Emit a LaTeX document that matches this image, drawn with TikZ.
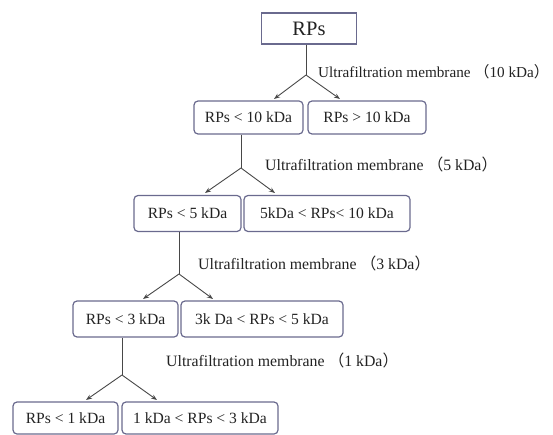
\documentclass[tikz,border=0pt]{standalone}
\usepackage{fontspec}
\setmainfont{Liberation Serif}
\newfontfamily\cjk{Noto Sans CJK SC}
\usetikzlibrary{arrows.meta}
\definecolor{boxc}{HTML}{6A6A8E}
\definecolor{linec}{HTML}{484848}
\definecolor{txt}{HTML}{222222}
\newcommand{\lp}{{\cjk （}}
\newcommand{\rp}{{\cjk\makebox[0.55em][l]{）}}}
\begin{document}
\begin{tikzpicture}[x=1pt,y=-1pt,
  box/.style={draw=boxc, line width=1.2pt, rounded corners=4pt, inner sep=0pt, text=txt, font=\fontsize{15.6}{18}\selectfont},
  lbl/.style={anchor=west, inner sep=0pt, text=txt, font=\fontsize{15.8}{18}\selectfont},
  conn/.style={draw=linec, line width=0.9pt},
  arr/.style={conn, -{Stealth[length=6pt,width=4.5pt]}}]
\useasboundingbox (0,0) rectangle (553,435);
% boxes
\node[box, rounded corners=0pt, minimum width=95pt, minimum height=31pt, font=\fontsize{20.5}{24}\selectfont] (top) at (309,28.5) {RPs};
\node[box, minimum width=109pt, minimum height=33pt] (r2l) at (248.5,117.5) {RPs < 10 kDa};
\node[box, minimum width=118pt, minimum height=33pt] (r2r) at (367,117.5) {RPs > 10 kDa};
\node[box, minimum width=107pt, minimum height=36pt] (r3l) at (187.5,213.5) {RPs < 5 kDa};
\node[box, minimum width=166pt, minimum height=36pt] (r3r) at (327,213.5) {5kDa < RPs< 10 kDa};
\node[box, minimum width=105pt, minimum height=36pt] (r4l) at (125.5,319) {RPs < 3 kDa};
\node[box, minimum width=162pt, minimum height=36pt] (r4r) at (262,319) {3k Da < RPs < 5 kDa};
\node[box, minimum width=105pt, minimum height=32pt] (r5l) at (65.5,418) {RPs < 1 kDa};
\node[box, minimum width=156pt, minimum height=32pt] (r5r) at (200,418) {1 kDa < RPs < 3 kDa};
% junctions and arrow tips
\coordinate (j1) at (306,75);
\coordinate (a1) at (274,99);
\coordinate (b1) at (340,99);
\coordinate (j2) at (241,168);
\coordinate (a2) at (205,193);
\coordinate (b2) at (275,193);
\coordinate (j3) at (179,274);
\coordinate (a3) at (143,299);
\coordinate (b3) at (213,299);
\coordinate (j4) at (122,375);
\coordinate (a4) at (86,400);
\coordinate (b4) at (157,400);
% connectors
\draw[conn] (j1 |- top.south) -- (j1);
\draw[arr] (j1) -- (a1);
\draw[arr] (j1) -- (b1);
\draw[conn] (j2 |- r2l.south) -- (j2);
\draw[arr] (j2) -- (a2);
\draw[arr] (j2) -- (b2);
\draw[conn] (j3 |- r3l.south) -- (j3);
\draw[arr] (j3) -- (a3);
\draw[arr] (j3) -- (b3);
\draw[conn] (j4 |- r4l.south) -- (j4);
\draw[arr] (j4) -- (a4);
\draw[arr] (j4) -- (b4);
% labels
\node[lbl, font=\fontsize{15.2}{18}\selectfont] (l1) at (318,72) {Ultrafiltration membrane \lp10 kDa\rp};
\node[lbl] (l2) at (265,164) {Ultrafiltration membrane \lp5 kDa\rp};
\node[lbl] (l3) at (198,263) {Ultrafiltration membrane \lp3 kDa\rp};
\node[lbl] (l4) at (166,360) {Ultrafiltration membrane \lp1 kDa\rp};
\end{tikzpicture}
\end{document}
